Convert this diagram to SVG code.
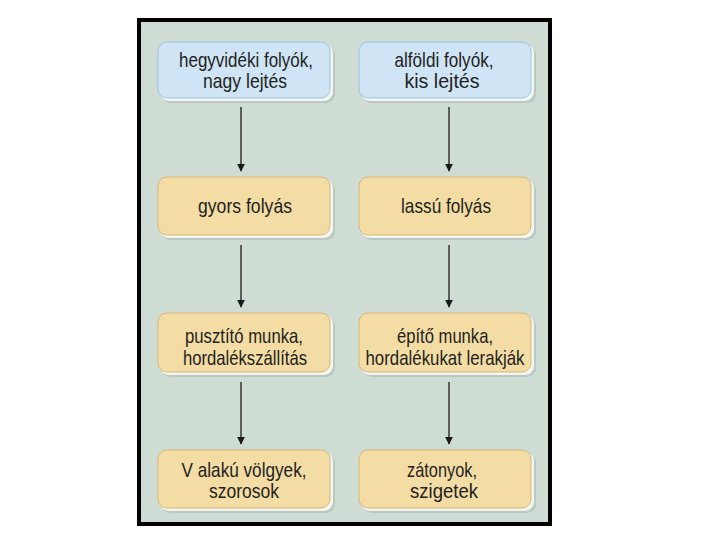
<svg xmlns="http://www.w3.org/2000/svg" width="720" height="540" viewBox="0 0 720 540">
<defs>
<style>
.t{font-family:"Liberation Sans Narrow","Liberation Sans",Arial,sans-serif;font-size:21px;fill:#231f20;text-anchor:middle}
.blue{fill:#cfe4f4;stroke:#9cc3de;stroke-width:1}
.or{fill:#f4dca5;stroke:#d8b676;stroke-width:1}
.sh{fill:#f4f6f2}
.sh2{fill:#b9c8c0}
.c{stroke:#1a1a1a;stroke-width:1.3;fill:none}
</style>
<marker id="ah" viewBox="0 0 10 10" refX="9" refY="5" markerWidth="8" markerHeight="8" markerUnits="userSpaceOnUse" orient="auto">
<path d="M0,0 L10,5 L0,10 Z" fill="#1a1a1a"/>
</marker>
</defs>
<rect x="0" y="0" width="720" height="540" fill="#ffffff"/>
<rect x="139" y="20" width="411" height="504" fill="#cedcd4" stroke="#000" stroke-width="4"/>

<g id="n1">
<rect class="sh2" x="162" y="46" width="173" height="57" rx="9"/>
<rect class="sh" x="160" y="44" width="173" height="57" rx="9"/>
<rect class="blue" x="158" y="42" width="172" height="56" rx="9"/>
<text class="t" x="246" y="67" textLength="134" lengthAdjust="spacingAndGlyphs">hegyvidéki folyók,</text>
<text class="t" x="245" y="88" textLength="84" lengthAdjust="spacingAndGlyphs">nagy lejtés</text>
</g>
<g id="n2">
<rect class="sh2" x="363" y="46" width="173" height="57" rx="9"/>
<rect class="sh" x="361" y="44" width="173" height="57" rx="9"/>
<rect class="blue" x="359" y="42" width="172" height="56" rx="9"/>
<text class="t" x="444" y="67" textLength="99" lengthAdjust="spacingAndGlyphs">alföldi folyók,</text>
<text class="t" x="442" y="88" textLength="75" lengthAdjust="spacingAndGlyphs">kis lejtés</text>
</g>
<g id="n3">
<rect class="sh2" x="162" y="181" width="173" height="59" rx="9"/>
<rect class="sh" x="160" y="179" width="173" height="59" rx="9"/>
<rect class="or" x="158" y="177" width="172" height="58" rx="9"/>
<text class="t" x="245" y="213" textLength="94" lengthAdjust="spacingAndGlyphs">gyors folyás</text>
</g>
<g id="n4">
<rect class="sh2" x="363" y="181" width="173" height="59" rx="9"/>
<rect class="sh" x="361" y="179" width="173" height="59" rx="9"/>
<rect class="or" x="359" y="177" width="172" height="58" rx="9"/>
<text class="t" x="446" y="213" textLength="90" lengthAdjust="spacingAndGlyphs">lassú folyás</text>
</g>
<g id="n5">
<rect class="sh2" x="162" y="317" width="173" height="60" rx="9"/>
<rect class="sh" x="160" y="315" width="173" height="60" rx="9"/>
<rect class="or" x="158" y="313" width="172" height="59" rx="9"/>
<text class="t" x="244" y="343" textLength="118" lengthAdjust="spacingAndGlyphs">pusztító munka,</text>
<text class="t" x="245" y="365" textLength="124" lengthAdjust="spacingAndGlyphs">hordalékszállítás</text>
</g>
<g id="n6">
<rect class="sh2" x="363" y="317" width="173" height="60" rx="9"/>
<rect class="sh" x="361" y="315" width="173" height="60" rx="9"/>
<rect class="or" x="359" y="313" width="172" height="59" rx="9"/>
<text class="t" x="445" y="343" textLength="96" lengthAdjust="spacingAndGlyphs">építő munka,</text>
<text class="t" x="445" y="365" textLength="159" lengthAdjust="spacingAndGlyphs">hordalékukat lerakják</text>
</g>
<g id="n7">
<rect class="sh2" x="162" y="454" width="173" height="59" rx="9"/>
<rect class="sh" x="160" y="452" width="173" height="59" rx="9"/>
<rect class="or" x="158" y="450" width="172" height="58" rx="9"/>
<text class="t" x="244" y="477" textLength="125" lengthAdjust="spacingAndGlyphs">V alakú völgyek,</text>
<text class="t" x="244" y="498" textLength="70" lengthAdjust="spacingAndGlyphs">szorosok</text>
</g>
<g id="n8">
<rect class="sh2" x="363" y="454" width="173" height="59" rx="9"/>
<rect class="sh" x="361" y="452" width="173" height="59" rx="9"/>
<rect class="or" x="359" y="450" width="172" height="58" rx="9"/>
<text class="t" x="442" y="477" textLength="70" lengthAdjust="spacingAndGlyphs">zátonyok,</text>
<text class="t" x="444" y="498" textLength="68" lengthAdjust="spacingAndGlyphs">szigetek</text>
</g>

<g id="connectors">
<line class="c" x1="241" y1="107" x2="241" y2="171" marker-end="url(#ah)"/>
<line class="c" x1="449" y1="107" x2="449" y2="171" marker-end="url(#ah)"/>
<line class="c" x1="241" y1="245" x2="241" y2="307" marker-end="url(#ah)"/>
<line class="c" x1="449" y1="245" x2="449" y2="307" marker-end="url(#ah)"/>
<line class="c" x1="241" y1="382" x2="241" y2="444" marker-end="url(#ah)"/>
<line class="c" x1="449" y1="382" x2="449" y2="444" marker-end="url(#ah)"/>
</g>
</svg>
